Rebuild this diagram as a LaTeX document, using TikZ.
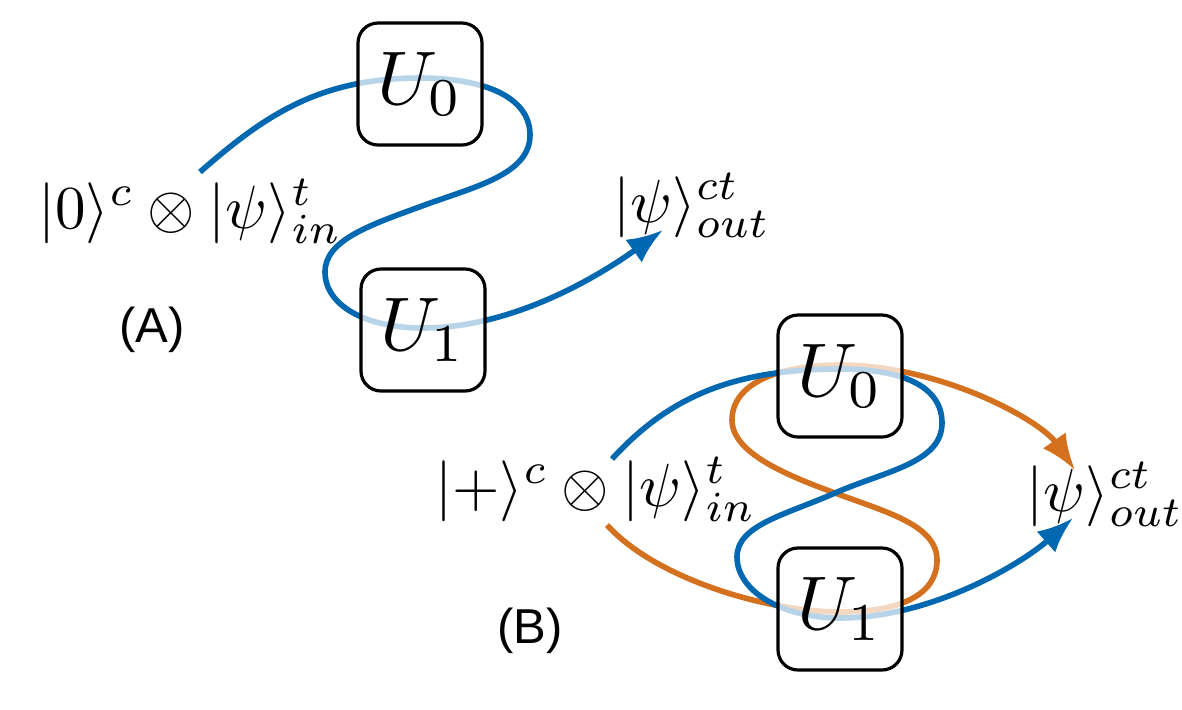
\documentclass[tikz,border=0pt]{standalone}
\usepackage{graphicx}
\usepackage{fontspec}
\newfontfamily\labelfont{Liberation Sans}
\usetikzlibrary{arrows.meta,backgrounds,calc}
\definecolor{cblue}{RGB}{0,103,177}
\definecolor{corange}{RGB}{212,113,30}
\newcommand{\ketsz}[1]{\scalebox{3.05}{$#1$}}
\newcommand{\usz}[1]{\scalebox{3.8}{$#1$}}
\tikzset{
  ubox/.style={draw, line width=1.6pt, rounded corners=10pt, fill=white, fill opacity=0.72,
    text opacity=1, minimum width=62pt, minimum height=61pt, inner sep=0pt},
  ket/.style={inner sep=0pt, anchor=base west},
  panel/.style={inner sep=0pt, font=\labelfont\fontsize{24.5}{29}\selectfont},
  wire/.style={line width=2.8pt},
  arrowed/.style={-{Latex[length=18pt,width=14pt]}}
}
\begin{document}
\begin{tikzpicture}[x=0.5pt,y=-0.5pt]
\useasboundingbox (0,0) rectangle (1182,709);
% Panel A
\node[ubox] (a0) at (420,84) {\usz{U_0}};
\node[ubox] (a1) at (423,330) {\usz{U_1}};
\node[ket] (inA) at (38,228) {\ketsz{|0\rangle^c\otimes|\psi\rangle^t_{in}}};
\node[ket] (outA) at (613,222) {\ketsz{|\psi\rangle^{ct}_{out}}};
\node[panel] (labA) at (152,330) {(A)};
\coordinate (sA) at (200,172);
\coordinate (tA) at (663,230);
% Panel B
\node[ubox] (b0) at (840,376) {\usz{U_0}};
\node[ubox] (b1) at (840,609) {\usz{U_1}};
\node[ket] (inB) at (435,506) {\ketsz{|+\rangle^c\otimes|\psi\rangle^t_{in}}};
\node[ket] (outB) at (1026,511) {\ketsz{|\psi\rangle^{ct}_{out}}};
\node[panel] (labB) at (530,631) {(B)};
\coordinate (sBb) at (612,459);
\coordinate (tBb) at (1073,518);
\coordinate (sBo) at (607,525);
\coordinate (tBo) at (1075,470);
\begin{scope}[on background layer]
% A blue path
\draw[wire, cblue, arrowed] (sA)
  .. controls (265,115) and (320,78) .. ($(a0.center)+(0,-6)$)
  .. controls (480,78) and (530,95) .. (530,135)
  .. controls (530,175) and (473,187) .. (422,206)
  .. controls (370,225) and (325,240) .. (325,272)
  .. controls (325,305) and (365,328) .. ($(a1.center)+(0,-2)$)
  .. controls (520,328) and (610,268) .. (tA);
% B orange path
\draw[wire, corange, arrowed] (sBo)
  .. controls (657,580) and (770,612) .. ($(b1.center)+(0,3)$)
  .. controls (900,612) and (937,595) .. (937,560)
  .. controls (937,525) and (886,512) .. (835,493)
  .. controls (783,474) and (732,452) .. (732,420)
  .. controls (732,385) and (775,365) .. ($(b0.center)+(0,-11)$)
  .. controls (940,365) and (1040,420) .. (tBo);
% B blue path
\draw[wire, cblue, arrowed] (sBb)
  .. controls (667,399) and (730,369) .. ($(b0.center)+(0,-7)$)
  .. controls (900,369) and (942,385) .. (942,423)
  .. controls (942,463) and (885,471) .. (835,493)
  .. controls (785,515) and (737,525) .. (737,557)
  .. controls (737,590) and (780,618) .. ($(b1.center)+(0,9)$)
  .. controls (930,618) and (1020,565) .. (tBb);
\end{scope}
\end{tikzpicture}
\end{document}
